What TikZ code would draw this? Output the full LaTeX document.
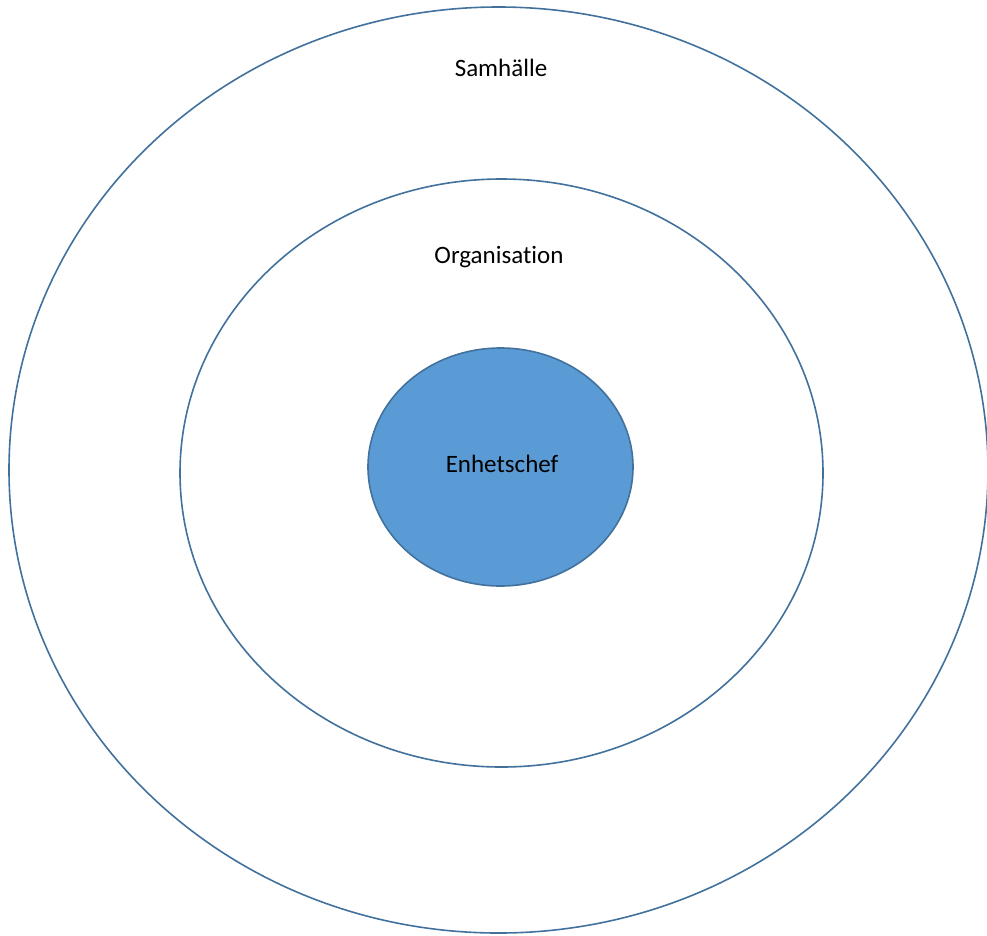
\documentclass[tikz,border=0pt]{standalone}
\usepackage{fontspec}
\setmainfont[Ligatures={NoCommon,NoContextual}]{Carlito}
\definecolor{ringline}{HTML}{41719C}
\definecolor{corefill}{HTML}{5B9BD5}
\begin{document}
\begin{tikzpicture}[x=1pt,y=-1pt,
  ring/.style={draw=ringline,line width=1.6pt},
  lbl/.style={font=\fontsize{25}{30}\selectfont,text=black}]
\useasboundingbox (0,0) rectangle (987,935);
% outer ring: society
\draw[ring] (498.5,470) ellipse [x radius=489.5, y radius=463];
% middle ring: organisation
\draw[ring] (501.5,473) ellipse [x radius=321.5, y radius=294];
% core: unit manager
\draw[ring,fill=corefill] (500.5,467) ellipse [x radius=132.5, y radius=119];
\node[lbl] (samhalle) at (501,68) {Samhälle};
\node[lbl] (org) at (499,257) {Organisation};
\node[lbl] (chef) at (502,464) {Enhetschef};
\end{tikzpicture}
\end{document}
